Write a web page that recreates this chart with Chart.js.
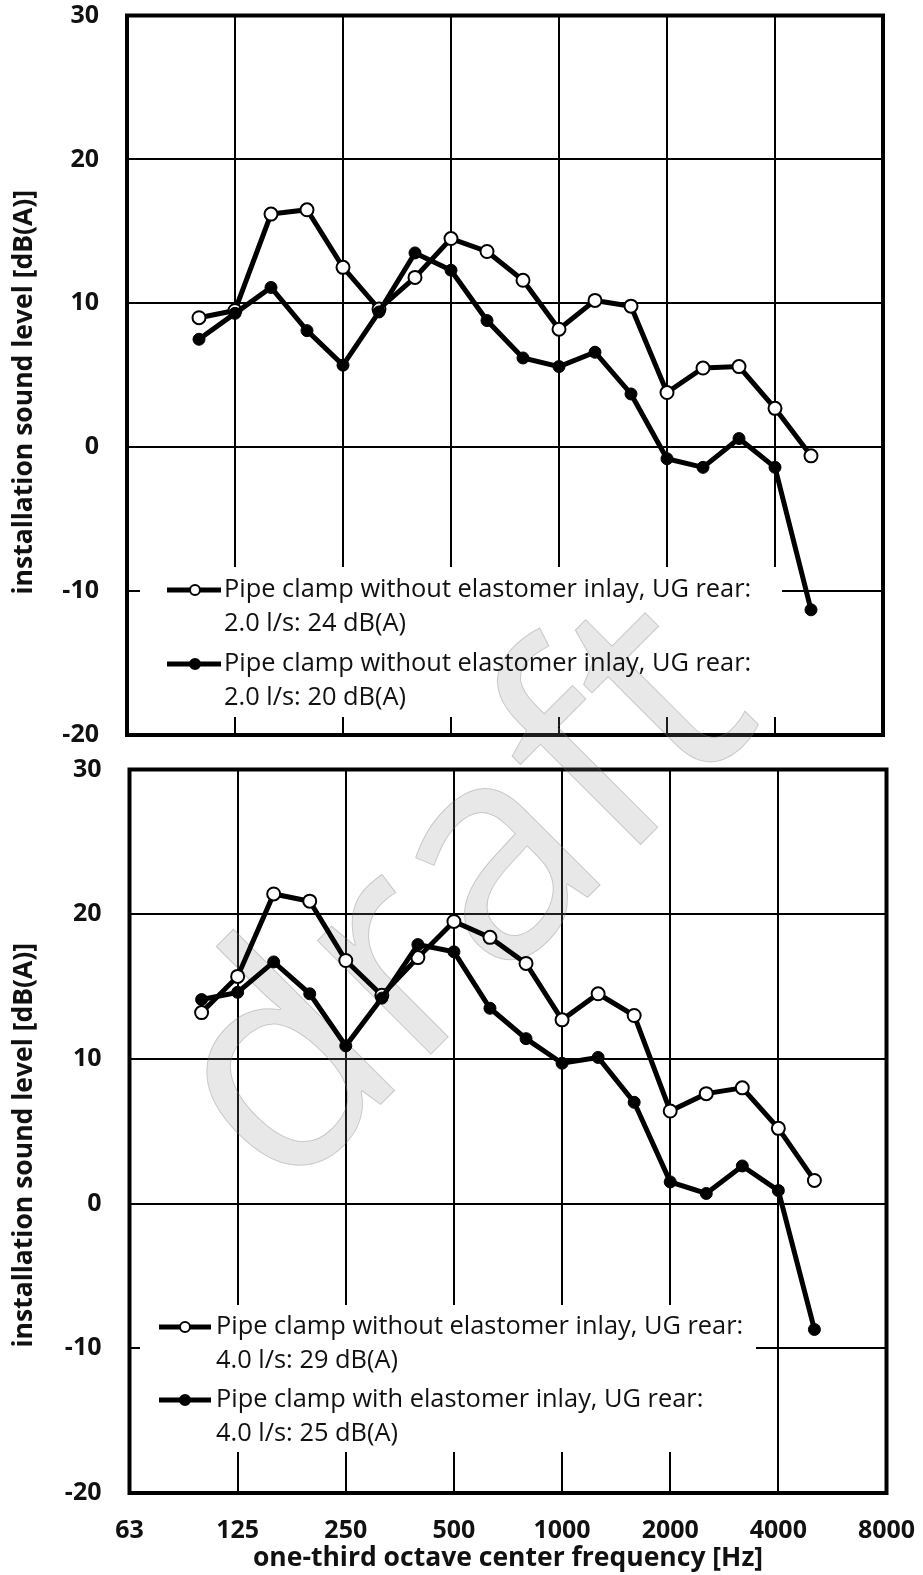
<!DOCTYPE html>
<html>
<head>
<meta charset="utf-8">
<script src="https://cdn.jsdelivr.net/npm/chart.js@4.4.1/dist/chart.umd.min.js"></script>
<style>
  html, body { margin: 0; padding: 0; background: #fff; }
  #wrap { position: relative; width: 923px; height: 1575px; overflow: hidden; }
  canvas { position: absolute; left: 0; }
  #topChart { top: 0; }
  #bottomChart { top: 750px; }
</style>
</head>
<body>
<div id="wrap">
  <canvas id="topChart" width="923" height="750"></canvas>
  <canvas id="bottomChart" width="923" height="825"></canvas>
</div>
<script>
// ── Data ──
const allBands = ['63', '80', '100', '125', '160', '200', '250', '315', '400', '500', '630',
                  '800', '1000', '1250', '1600', '2000', '2500', '3150', '4000', '5000', '6300', '8000'];
const bands = ['100', '125', '160', '200', '250', '315', '400', '500', '630',
               '800', '1000', '1250', '1600', '2000', '2500', '3150', '4000', '5000'];

const topOpen    = [9.0, 9.5, 16.2, 16.5, 12.5, 9.6, 11.8, 14.5, 13.6, 11.6, 8.2, 10.2, 9.8, 3.8, 5.5, 5.6, 2.7, -0.6];
const topFilled  = [7.5, 9.3, 11.1, 8.1, 5.7, 9.4, 13.5, 12.3, 8.8, 6.2, 5.6, 6.6, 3.7, -0.8, -1.4, 0.6, -1.4, -11.3];
const botOpen    = [13.2, 15.7, 21.4, 20.9, 16.8, 14.4, 17.0, 19.5, 18.4, 16.6, 12.7, 14.5, 13.0, 6.4, 7.6, 8.0, 5.2, 1.6];
const botFilled  = [14.1, 14.6, 16.7, 14.5, 10.9, 14.2, 17.9, 17.4, 13.5, 11.4, 9.7, 10.1, 7.0, 1.5, 0.7, 2.6, 0.9, -8.7];

const topLabels = [
    ['Pipe clamp without elastomer inlay, UG rear:', '2.0 l/s: 24 dB(A)'],
    ['Pipe clamp without elastomer inlay, UG rear:', '2.0 l/s: 20 dB(A)']
];
const botLabels = [
    ['Pipe clamp without elastomer inlay, UG rear:', '4.0 l/s: 29 dB(A)'],
    ['Pipe clamp with elastomer inlay, UG rear:', '4.0 l/s: 25 dB(A)']
];

const yTitle = 'installation sound level [dB(A)]';
const xTitle = 'one-third octave center frequency [Hz]';
const watermarkText = 'draft';

const FONT = "'Open Sans', 'DejaVu Sans', sans-serif";

const pts = vals => bands.map((b, i) => ({ x: allBands.indexOf(b), y: vals[i] }));

// ── Watermark, drawn in page coordinates so it runs across both panels ──
function drawWatermark(ctx, pageTop) {
    ctx.save();
    ctx.translate(0, -pageTop);
    ctx.translate(283, 1202);
    ctx.rotate(-Math.PI / 4);
    ctx.font = `300px ${FONT}`;
    ctx.textBaseline = 'alphabetic';
    ctx.fillStyle = 'rgba(140,140,140,0.2)';
    ctx.fillText(watermarkText, 0, 0);
    ctx.strokeStyle = 'rgba(120,120,120,0.35)';
    ctx.lineWidth = 1;
    ctx.strokeText(watermarkText, 0, 0);
    ctx.restore();
}

// ── Legend box, frame, y title ──
const panelDecor = {
    id: 'panelDecor',
    beforeDatasetsDraw(chart, args, o) {
        const ctx = chart.ctx;
        const a = chart.chartArea;
        ctx.save();
        const [x1, y1, x2, y2] = o.box;
        ctx.fillStyle = '#fff';
        ctx.fillRect(x1, y1, x2 - x1, y2 - y1);

        ctx.strokeStyle = '#000';
        ctx.lineWidth = 4;
        ctx.strokeRect(a.left, a.top, a.right - a.left, a.bottom - a.top);

        drawWatermark(ctx, o.pageTop);

        ctx.font = `25.4px ${FONT}`;
        ctx.textBaseline = 'middle';
        chart.data.datasets.forEach((ds, i) => {
            const y = o.rows[i];
            ctx.strokeStyle = '#000';
            ctx.lineWidth = 5;
            ctx.beginPath();
            ctx.moveTo(o.lineX[0], y);
            ctx.lineTo(o.lineX[1], y);
            ctx.stroke();
            ctx.beginPath();
            ctx.arc(o.markX, y, 5, 0, Math.PI * 2);
            ctx.fillStyle = ds.pointBackgroundColor;
            ctx.fill();
            ctx.lineWidth = 2;
            ctx.stroke();
            ctx.fillStyle = '#111';
            ds.label.forEach((line, k) => ctx.fillText(line, o.textX, y + k * o.lineGap));
        });

        ctx.translate(24, (a.top + a.bottom) / 2 + o.titleShift);
        ctx.rotate(-Math.PI / 2);
        ctx.textAlign = 'center';
        ctx.font = `bold 26.5px ${FONT}`;
        ctx.fillStyle = '#111';
        ctx.fillText(yTitle, 0, 0);
        ctx.restore();
    }
};

function makeChart(id, open, filled, labels, cfg) {
    return new Chart(document.getElementById(id), {
        type: 'line',
        data: {
            datasets: [
                { label: labels[0], data: pts(open), borderColor: '#000', borderWidth: 5,
                  pointRadius: 6.5, pointBackgroundColor: '#fff', pointBorderColor: '#000',
                  pointBorderWidth: 2, order: 1 },
                { label: labels[1], data: pts(filled), borderColor: '#000', borderWidth: 5,
                  pointRadius: 6, pointBackgroundColor: '#000', pointBorderColor: '#000',
                  pointBorderWidth: 1, order: 0 }
            ]
        },
        options: {
            responsive: false,
            animation: false,
            layout: { padding: cfg.padding },
            plugins: {
                legend: { display: false },
                tooltip: { enabled: false },
                panelDecor: cfg.decor
            },
            scales: {
                x: {
                    type: 'linear', min: 0, max: allBands.length - 1,
                    // tick marks stay invisible; their length only places the labels
                    grid: { color: '#000', lineWidth: 2, drawTicks: cfg.xLabels, tickLength: 23, tickColor: 'rgba(0,0,0,0)' },
                    border: { display: false },
                    ticks: {
                        display: cfg.xLabels, stepSize: 3, padding: 0,
                        color: '#111', font: { family: FONT, size: 25, weight: 'bold' },
                        callback: v => allBands[v]
                    },
                    title: {
                        display: cfg.xLabels, text: xTitle, color: '#111',
                        font: { family: FONT, size: 26.5, weight: 'bold' },
                        padding: { top: 0, bottom: 1 }
                    },
                    afterFit: s => { s.height = cfg.xHeight; }
                },
                y: {
                    min: -20, max: 30,
                    grid: { color: '#000', lineWidth: 2, drawTicks: true, tickLength: 28, tickColor: 'rgba(0,0,0,0)' },
                    border: { display: false },
                    ticks: {
                        stepSize: 10, padding: 0, color: '#111',
                        font: { family: FONT, size: 25, weight: 'bold' }
                    },
                    afterFit: s => { s.width = cfg.yWidth; }
                }
            }
        },
        plugins: [panelDecor]
    });
}

makeChart('topChart', topOpen, topFilled, topLabels, {
    padding: { top: 15.5, left: 0, right: 40, bottom: 13.5 },
    xLabels: false, xHeight: 0, yWidth: 127,
    decor: { pageTop: 0, box: [140, 567, 782, 717], rows: [590, 664], lineX: [167, 221],
             markX: 195, textX: 224, lineGap: 34, titleShift: 17 }
});

makeChart('bottomChart', botOpen, botFilled, botLabels, {
    padding: { top: 19.5, left: 0, right: 36.5, bottom: 0 },
    xLabels: true, xHeight: 82, yWidth: 129.5,
    decor: { pageTop: 750, box: [140, 555, 756, 702], rows: [577, 650], lineX: [159, 211],
             markX: 185, textX: 216, lineGap: 34, titleShift: 14 }
});
</script>
</body>
</html>
